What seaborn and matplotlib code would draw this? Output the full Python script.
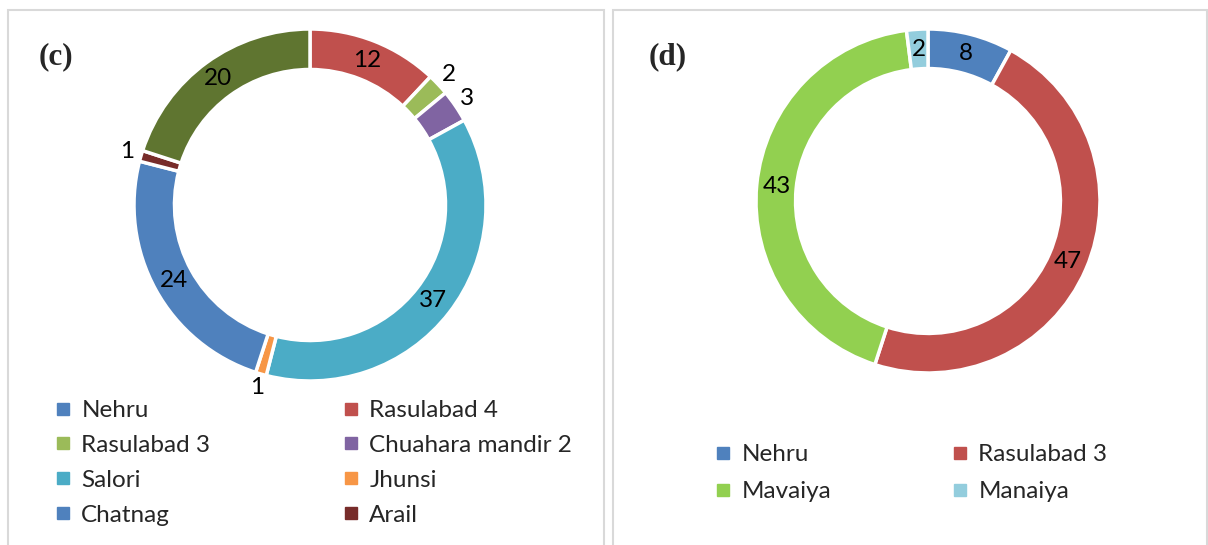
import matplotlib
matplotlib.use("Agg")
import matplotlib.pyplot as plt
from matplotlib.lines import Line2D
from matplotlib.patches import Rectangle
import numpy as np
import seaborn as sns

# ---------------- data ----------------
c_categories = ["Nehru", "Rasulabad 4", "Rasulabad 3", "Chuahara mandir 2",
                "Salori", "Jhunsi", "Chatnag", "Arail", "Other"]
c_values = [0, 12, 2, 3, 37, 1, 24, 1, 20]
c_legend_count = 8  # only the first eight categories appear in the legend

d_categories = ["Nehru", "Rasulabad 3", "Mavaiya", "Manaiya"]
d_values = [8, 47, 43, 2]

# ---------------- style ----------------
c_colors = ["#4F81BD", "#C0504D", "#9BBB59", "#8064A2", "#4BACC6",
            "#F79646", "#4F81BD", "#772C2A", "#5F7530"]
d_colors = ["#4F81BD", "#C0504D", "#92D050", "#93CDDD"]

sns.set_theme(style="white")
plt.rcParams["font.family"] = ["Lato", "DejaVu Sans"]

W, H = 1208, 545
fig = plt.figure(figsize=(W / 100, H / 100), dpi=100)
fig.patch.set_facecolor("white")

LEG_FS = 17.5
LAB_FS = 17.5


def fx(px):
    return px / W


def fy(py_top):
    return 1 - py_top / H


# panel borders
for x0, x1 in [(8, 604), (613, 1207)]:
    fig.patches.append(Rectangle((fx(x0), fy(560)), fx(x1 - x0), (560 - 10) / H,
                                 transform=fig.transFigure, fill=False,
                                 edgecolor="#D9D9D9", linewidth=1.5))

RING = 0.23
LIM = 1.25


def donut(cx, cy, r, values, colors, outside_small):
    size = 2 * LIM * r
    ax = fig.add_axes([fx(cx - size / 2), fy(cy + size / 2), fx(size), size / H])
    ax.pie(values, colors=colors, startangle=90, counterclock=False,
           wedgeprops=dict(width=RING, edgecolor="white", linewidth=2.5))
    ax.set_xlim(-LIM, LIM)
    ax.set_ylim(-LIM, LIM)
    ax.set_aspect("equal")
    ax.axis("off")
    total = float(sum(values))
    cum = 0.0
    for v in values:
        if v > 0:
            mid = (cum + v / 2) / total * 360.0
            if outside_small and v < 5:
                rr = 1.08
            else:
                rr = 1 - RING / 2
            ang = np.deg2rad(90 - mid)
            ax.text(rr * np.cos(ang), rr * np.sin(ang), f"{v:g}",
                    ha="center", va="center", fontsize=LAB_FS, color="black")
        cum += v
    return ax


donut(310, 205, 176, c_values, c_colors, True)
donut(928, 201, 172, d_values, d_colors, False)

# panel tags
fig.text(fx(56), fy(57), "(c)", fontsize=22.5, fontweight="bold",
         family="Liberation Serif", ha="center", va="center")
fig.text(fx(668), fy(57), "(d)", fontsize=22.5, fontweight="bold",
         family="Liberation Serif", ha="center", va="center")


def legend_column(labels, colors, x_px, y_top_px, spacing):
    handles = [Line2D([], [], marker="s", linestyle="none", markersize=8.5,
                      markerfacecolor=c, markeredgecolor=c) for c in colors]
    leg = fig.legend(handles, labels, loc="upper left",
                     bbox_to_anchor=(fx(x_px), fy(y_top_px)),
                     frameon=False, fontsize=LEG_FS, borderpad=0,
                     borderaxespad=0, handlelength=0.5, handletextpad=0.5,
                     labelspacing=spacing)
    return leg


# legend (c): row-major layout in two columns
c_leg_labels = c_categories[:c_legend_count]
c_leg_colors = c_colors[:c_legend_count]
legend_column(c_leg_labels[0::2], c_leg_colors[0::2], 57, 400, 0.57)
legend_column(c_leg_labels[1::2], c_leg_colors[1::2], 345, 400, 0.57)

legend_column(d_categories[0::2], d_colors[0::2], 717, 444, 0.66)
legend_column(d_categories[1::2], d_colors[1::2], 954, 444, 0.66)

fig.savefig("out.png", dpi=100, facecolor="white")
